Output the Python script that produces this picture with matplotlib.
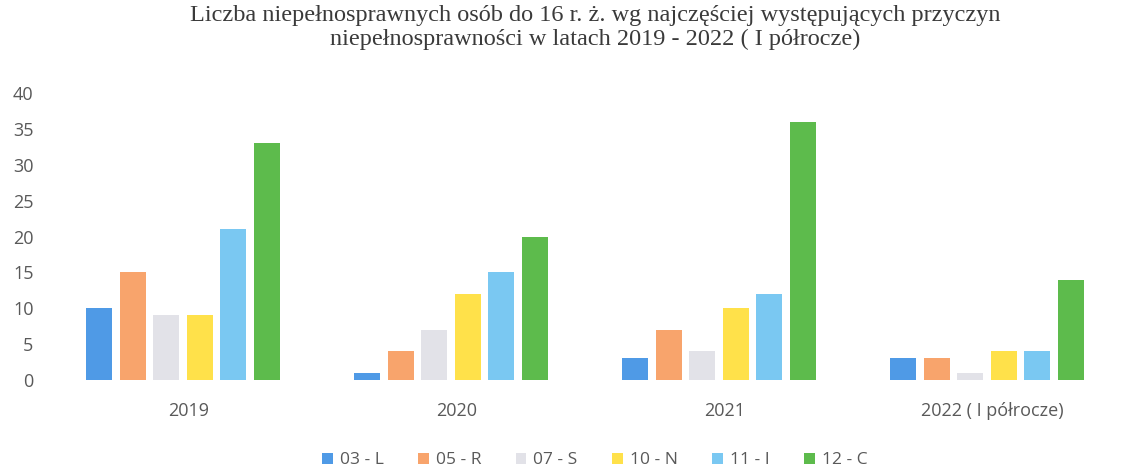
import numpy as np
import matplotlib
matplotlib.use("Agg")
import matplotlib.pyplot as plt

# dane
lata = ["2019", "2020", "2021", "2022 ( I półrocze)"]
przyczyny = ["03 - L", "05 - R", "07 - S", "10 - N", "11 - I", "12 - C"]
v_03L = [10, 1, 3, 3]
v_05R = [15, 4, 7, 3]
v_07S = [9, 7, 4, 1]
v_10N = [9, 12, 10, 4]
v_11I = [21, 15, 12, 4]
v_12C = [33, 20, 36, 14]
kolory = ["#4f9ae6", "#f8a46c", "#e2e2e8", "#ffe14a", "#7ac8f2", "#5dbb4c"]

serie = [v_03L, v_05R, v_07S, v_10N, v_11I, v_12C]

fig = plt.figure(figsize=(11.33, 4.70), dpi=100)
ax = fig.add_axes([0.048, 0.1915, 0.946, 0.6106])

x = np.arange(len(lata))
krok = 0.125
szer = 0.097
for i, (s, k, n) in enumerate(zip(serie, kolory, przyczyny)):
    ax.bar(x + (i - 2.5) * krok - 0.02, s, width=szer, color=k, label=n)

ax.set_ylim(0, 40)
ax.set_xlim(-0.5, 3.5)
ax.set_yticks(range(0, 41, 5))
ax.set_xticks(x)
ax.set_xticklabels(lata)
for sp in ax.spines.values():
    sp.set_visible(False)
ax.tick_params(length=0, labelsize=13, colors="#595959")
ax.tick_params(axis="x", pad=16)
ax.tick_params(axis="y", pad=15)
for t in ax.get_xticklabels() + ax.get_yticklabels():
    t.set_family("Open Sans")

fig.suptitle("Liczba niepełnosprawnych osób do 16 r. ż. wg najczęściej występujących przyczyn\n"
             "niepełnosprawności w latach 2019 - 2022 ( I półrocze)",
             x=0.525, y=0.99, fontsize=17.5, family="Liberation Serif", color="#3a3a3a",
             linespacing=1.2)

leg = fig.legend(loc="lower center", bbox_to_anchor=(0.525, -0.03), ncol=6, frameon=False,
                 handlelength=0.6, handleheight=0.6, handletextpad=0.4, columnspacing=2.0,
                 prop={"family": "Open Sans", "size": 12.5})
for t in leg.get_texts():
    t.set_color("#595959")

fig.savefig("out.png", dpi=100)
